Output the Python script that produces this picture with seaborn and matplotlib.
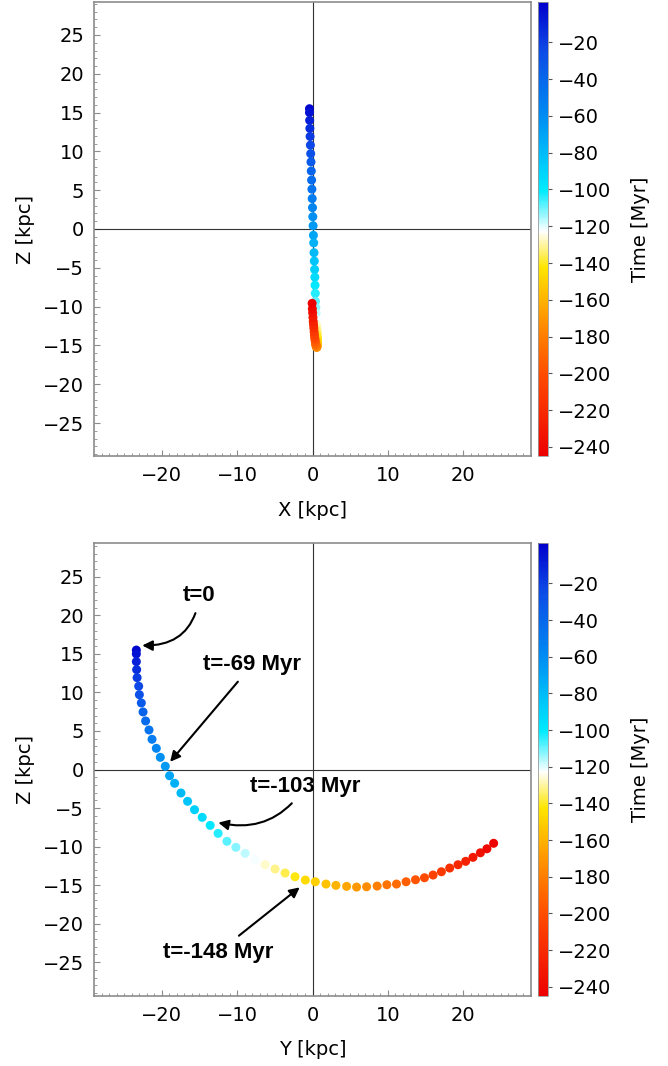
import numpy as np
import pandas as pd
import matplotlib
matplotlib.use("Agg")
import matplotlib.pyplot as plt
import seaborn as sns
from matplotlib.colors import LinearSegmentedColormap, Normalize
from matplotlib.cm import ScalarMappable
from matplotlib.ticker import MultipleLocator

# ---------------- data ----------------
time_myr = [0.0, -4.7, -9.4, -14.1, -18.8, -23.5, -28.2, -32.9, -37.6, -42.3,
            -47.0, -51.7, -56.4, -61.1, -65.8, -70.5, -75.2, -79.9, -84.6, -89.3,
            -94.0, -98.7, -103.4, -108.1, -112.8, -117.5, -122.2, -126.9, -131.6, -136.3,
            -141.0, -145.7, -150.4, -155.1, -159.8, -164.5, -169.2, -173.9, -178.6, -183.3,
            -188.0, -192.7, -197.4, -202.1, -206.8, -211.5, -216.2, -220.9, -225.6, -230.3,
            -235.0, -239.7, -244.4]

x_kpc = [-0.40, -0.40, -0.38, -0.35, -0.32, -0.28, -0.24, -0.20, -0.16, -0.12,
         -0.08, -0.04, 0.00, 0.04, 0.08, 0.12, 0.16, 0.20, 0.24, 0.28,
         0.31, 0.34, 0.37, 0.40, 0.44, 0.48, 0.52, 0.56, 0.60, 0.63,
         0.65, 0.66, 0.66, 0.65, 0.63, 0.60, 0.57, 0.54, 0.50, 0.46,
         0.42, 0.38, 0.34, 0.30, 0.26, 0.22, 0.18, 0.14, 0.10, 0.06,
         0.02, -0.02, -0.05]

y_kpc = [-23.38, -23.38, -23.38, -23.34, -23.28, -23.07, -22.98, -22.72, -22.49, -22.15,
         -21.70, -21.30, -20.73, -20.20, -19.54, -18.97, -18.30, -17.46, -16.58, -15.66,
         -14.64, -13.58, -12.53, -11.36, -10.17, -8.94, -7.62, -6.29, -4.97, -3.64,
         -2.32, -0.95, 0.37, 1.79, 3.11, 4.53, 5.85, 7.18, 8.58, 9.87,
         11.15, 12.42, 13.67, 14.86, 16.00, 17.11, 18.21, 19.31, 20.33, 21.30,
         22.28, 23.15, 24.04]

z_kpc = [15.50, 15.00, 14.00, 12.96, 11.92, 10.81, 9.71, 8.64, 7.47, 6.30,
         5.13, 3.92, 2.75, 1.58, 0.42, -0.81, -1.79, -3.05, -4.13, -5.22,
         -6.21, -7.25, -8.29, -9.32, -10.10, -10.88, -11.71, -12.36, -12.92, -13.44,
         -13.92, -14.35, -14.57, -14.87, -15.04, -15.17, -15.26, -15.22, -15.13, -14.96,
         -14.87, -14.57, -14.31, -14.05, -13.70, -13.27, -12.79, -12.36, -11.92, -11.40,
         -10.81, -10.29, -9.58]

axis_ticks = [-20, -10, 0, 10, 20]
z_ticks = [-25, -20, -15, -10, -5, 0, 5, 10, 15, 20, 25]
cbar_ticks = [-20, -40, -60, -80, -100, -120, -140, -160, -180, -200, -220, -240]

# label text, arrow tip (Y, Z), text centre (Y, Z), arc curvature
annot_labels = ["t=0", "t=-69 Myr", "t=-103 Myr", "t=-148 Myr"]
annot_tips = [(-22.6, 16.1), (-18.9, 1.0), (-12.5, -6.9), (-1.7, -15.3)]
annot_text = [(-15.0, 22.6), (-8.0, 13.6), (-1.0, -2.2), (-12.5, -23.7)]
annot_rad = [-0.45, 0.0, -0.35, 0.0]

# ---------------- style ----------------
sns.set_theme(style="white")
plt.rcParams['font.family'] = ['DejaVu Sans']
plt.rcParams['axes.unicode_minus'] = True
plt.rcParams['text.color'] = 'black'
plt.rcParams['axes.labelcolor'] = 'black'
plt.rcParams['xtick.labelcolor'] = 'black'
plt.rcParams['ytick.labelcolor'] = 'black'

cmap = LinearSegmentedColormap.from_list(
    "time_cmap",
    [(0.00, (0.93, 0.00, 0.00)),
     (0.18, (1.00, 0.30, 0.00)),
     (0.30, (1.00, 0.58, 0.00)),
     (0.415, (1.00, 0.90, 0.00)),
     (0.495, (1.00, 1.00, 1.00)),
     (0.585, (0.00, 0.92, 1.00)),
     (0.75, (0.00, 0.55, 0.95)),
     (0.90, (0.05, 0.28, 0.90)),
     (1.00, (0.00, 0.00, 0.80))])
norm = Normalize(vmin=-245, vmax=2)

df = pd.DataFrame({"t": time_myr, "X": x_kpc, "Y": y_kpc, "Z": z_kpc})

W, H = 668, 1066
fig = plt.figure(figsize=(W / 100, H / 100), dpi=100)
fig.patch.set_facecolor("white")


def px_axes(left, top, right, bottom):
    return fig.add_axes([left / W, 1 - bottom / H, (right - left) / W, (bottom - top) / H])


ax1 = px_axes(94, 2, 531, 456)
ax2 = px_axes(94, 543, 531, 996)
cax1 = px_axes(538, 2, 548, 456)
cax2 = px_axes(538, 543, 548, 996)

spine_col = "#8c8c8c"

for ax, xcol, xlabel, ylim in [(ax1, "X", "X [kpc]", 29.25), (ax2, "Y", "Y [kpc]", 29.4)]:
    ax.axhline(0, color="#333333", lw=0.8, zorder=1)
    ax.axvline(0, color="#333333", lw=0.8, zorder=1)
    sns.scatterplot(data=df, x=xcol, y="Z", hue="t", palette=cmap, hue_norm=norm,
                    s=42, linewidth=0, legend=False, ax=ax, zorder=3)
    ax.set_xlim(-29, 29)
    ax.set_ylim(-ylim, ylim)
    ax.set_xticks(axis_ticks)
    ax.set_yticks(z_ticks)
    ax.xaxis.set_minor_locator(MultipleLocator(1))
    ax.yaxis.set_minor_locator(MultipleLocator(1))
    ax.tick_params(which="major", direction="in", length=4, width=0.8, color=spine_col,
                   labelsize=14, pad=7, left=True, bottom=True, top=False, right=False,
                   labelcolor="black")
    ax.tick_params(which="minor", direction="in", length=2, width=0.6, color=spine_col,
                   left=True, bottom=True, top=False, right=False)
    for sp in ax.spines.values():
        sp.set_color(spine_col)
        sp.set_linewidth(1.2)
    ax.set_xlabel(xlabel, fontsize=14, color="black")
    ax.set_ylabel("Z [kpc]", fontsize=14, color="black")
    ax.xaxis.label.set_verticalalignment("center")
    ax.yaxis.label.set_verticalalignment("center")
    ax.xaxis.set_label_coords(0.5, -0.119)
    ax.yaxis.set_label_coords(-0.157, 0.5)
    ax.set_facecolor("white")

sm = ScalarMappable(norm=norm, cmap=cmap)
for cax in (cax1, cax2):
    cb = fig.colorbar(sm, cax=cax)
    cb.set_ticks(cbar_ticks)
    cb.outline.set_edgecolor("#9a9a9a")
    cb.outline.set_linewidth(0.6)
    cax.tick_params(direction="out", length=3, width=0.8, color="#555555",
                    labelsize=14, pad=4, labelcolor="black")
    cb.set_label("Time [Myr]", fontsize=14, color="black")
    cax.yaxis.label.set_verticalalignment("center")
    cax.yaxis.set_label_coords(10.2, 0.5)

for lab, tip, txt, rad in zip(annot_labels, annot_tips, annot_text, annot_rad):
    ax2.annotate(lab, xy=tip, xytext=txt, ha="center", va="center", color="black",
                 fontsize=16, fontweight="bold", family=["Liberation Sans", "DejaVu Sans"],
                 arrowprops=dict(arrowstyle="-|>", color="black", lw=1.5,
                                 mutation_scale=15, shrinkA=3, shrinkB=0,
                                 connectionstyle=f"arc3,rad={rad}"),
                 zorder=5)

fig.savefig("out.png", dpi=100, facecolor="white")
